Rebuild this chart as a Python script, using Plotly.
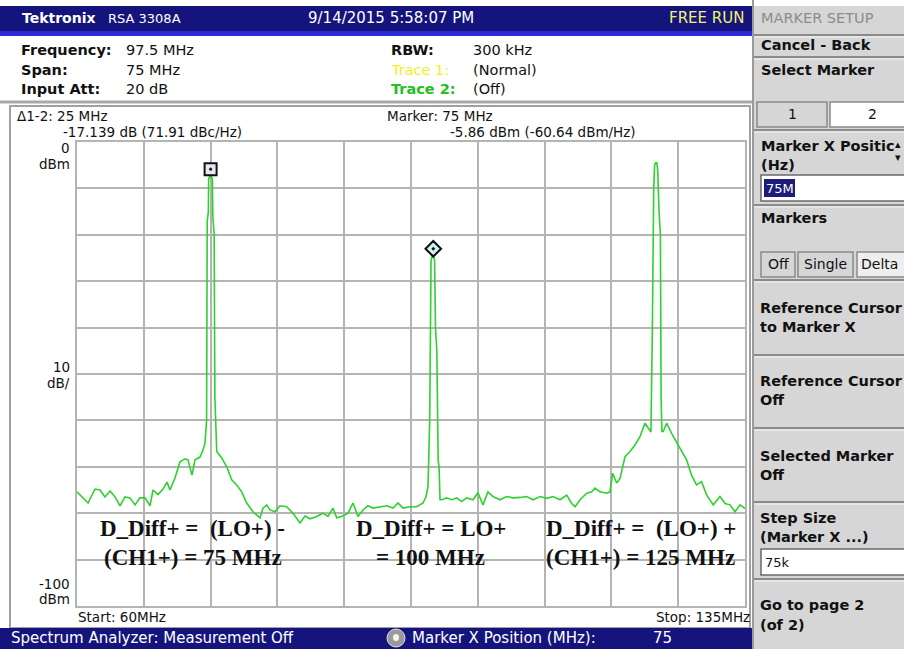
import plotly.graph_objects as go

# ---------------- data ----------------
freq_mhz = [
    60.00, 60.71, 61.24, 62.02, 62.58, 63.14, 63.71, 64.27, 64.83, 65.39,
    65.95, 66.51, 67.07, 67.64, 68.20, 68.53, 69.09, 69.66, 70.11, 70.44,
    71.00, 71.56, 72.13, 72.46, 72.91, 73.25, 73.81, 74.15, 74.37,
    74.55, 74.62, 74.75, 74.78, 74.88, 75.10, 75.20, 75.25, 75.40, 75.48, 75.69,
    76.25, 76.81, 77.37, 77.93, 78.49, 79.05, 79.76, 80.55, 80.88, 81.30,
    81.67, 82.23, 82.79, 83.54, 84.25, 85.04, 85.60, 86.16, 86.91, 87.62,
    88.18, 88.74, 89.16, 89.72, 90.43, 90.99, 91.55, 92.11, 92.67, 93.23,
    94.02, 94.77, 95.48, 96.04, 96.60, 97.39, 98.14, 98.85, 99.19, 99.41,
    99.60, 99.66, 99.75, 99.85, 100.05, 100.15, 100.25, 100.40, 100.55, 100.65,
    100.76, 100.95, 101.51, 102.07, 102.63, 103.19, 103.75, 104.46, 105.02, 105.58,
    106.14, 106.71, 107.49, 108.24, 108.95, 109.74, 110.49, 111.20, 111.99,
    112.74, 113.45, 114.23, 114.98, 115.54, 115.92, 116.48, 117.23, 117.79,
    118.16, 118.72, 119.47, 119.84, 120.14, 120.59, 120.97, 121.53, 122.09,
    122.65, 123.21, 123.77, 124.14, 124.44,
    124.60, 124.67, 124.75, 124.85, 124.95, 125.10, 125.20, 125.35, 125.50, 125.58,
    125.67, 125.82, 126.20, 126.76, 127.32, 127.88, 128.44, 129.00, 129.56, 130.12,
    130.70, 131.44, 132.19, 132.76, 133.32, 133.88, 134.44, 135.00,
]
level_dbm = [
    -75.4, -76.7, -77.8, -74.8, -75.0, -76.5, -75.2, -76.5, -78.4, -76.5,
    -76.7, -78.2, -76.7, -76.7, -78.4, -75.0, -76.0, -74.8, -73.3, -75.0,
    -72.4, -68.9, -68.3, -68.5, -71.8, -68.5, -67.9, -66.4, -64.9,
    -60.0, -17.0, -15.0, -8.0, -7.5, -7.5, -8.0, -16.0, -20.0, -55.0, -66.7,
    -68.1, -70.0, -72.8, -73.9, -75.4, -77.8, -79.7, -81.0, -78.9, -78.2,
    -79.3, -79.7, -78.4, -78.6, -80.0, -82.1, -80.6, -81.2, -80.7, -80.0,
    -80.7, -78.9, -81.0, -80.7, -80.0, -77.8, -80.7, -79.3, -78.4, -78.9,
    -78.6, -78.4, -78.9, -77.8, -78.9, -78.6, -78.6, -77.8, -76.4, -74.3,
    -60.0, -30.0, -25.5, -24.8, -24.8, -25.5, -40.0, -45.0, -68.5, -70.0,
    -77.1, -77.1, -76.7, -77.1, -76.7, -77.5, -76.7, -77.1, -75.6, -78.2,
    -75.4, -76.4, -77.1, -76.4, -76.7, -76.6, -76.4, -77.1, -76.4,
    -76.8, -76.4, -77.1, -76.1, -77.9, -78.6, -77.1, -75.7, -75.4,
    -74.6, -75.4, -75.7, -75.4, -71.4, -73.5, -72.5, -67.8, -66.7,
    -65.3, -63.5, -60.6, -61.7, -62.5,
    -40.0, -15.0, -10.0, -5.0, -4.5, -4.5, -6.0, -15.0, -20.0, -55.0,
    -62.4, -62.4, -60.6, -62.8, -64.6, -66.4, -68.5, -71.8, -73.9, -73.2,
    -76.1, -78.2, -76.4, -77.9, -78.2, -79.7, -78.2, -79.0,
]

marker_freq = [75.0, 100.0]
marker_level = [-5.86, -23.0]
marker_symbols = ["square-dot", "diamond-dot"]
marker_fills = ["#ece6f2", "#d4f2f2"]

eq_x = [73.0, 99.7, 123.3]
eq_line1 = ["D_Diff+ =\u00a0 (LO+) -", "D_Diff+ = LO+", "D_Diff+ =\u00a0 (LO+) +"]
eq_line2 = ["(CH1+) = 75 MHz", "= 100 MHz", "(CH1+) = 125 MHz"]

# ---------------- geometry helpers (page pixels -> paper) ----------------
W, H = 904, 649
L, R, T, B = 77, 745, 142, 606


def px(x):
    return (x - L) / (R - L)


def py(y):
    return (B - y) / (B - T)


NAVY = "#14147c"
PANEL = "#d6d6d6"
UI_FONT = "DejaVu Sans"

fig = go.Figure()

fig.add_trace(go.Scatter(
    x=freq_mhz, y=level_dbm, mode="lines",
    line=dict(color="#2ed12e", width=1.6),
    hoverinfo="skip", showlegend=False,
))
fig.add_trace(go.Scatter(
    x=marker_freq, y=marker_level, mode="markers",
    marker=dict(symbol=marker_symbols, size=12, color=marker_fills,
                line=dict(color="#111111", width=2)),
    hoverinfo="skip", showlegend=False,
))

shapes = []
ann = []


def rect(x0, y0, x1, y1, fill=None, line=None, lw=1, layer="above"):
    shapes.append(dict(type="rect", xref="paper", yref="paper",
                       x0=px(x0), x1=px(x1), y0=py(y1), y1=py(y0),
                       fillcolor=fill if fill else "rgba(0,0,0,0)",
                       line=dict(color=line if line else "rgba(0,0,0,0)", width=lw),
                       layer=layer))


def hline(x0, x1, y, color, lw=1):
    shapes.append(dict(type="line", xref="paper", yref="paper",
                       x0=px(x0), x1=px(x1), y0=py(y), y1=py(y),
                       line=dict(color=color, width=lw)))


def vline(x, y0, y1, color, lw=1):
    shapes.append(dict(type="line", xref="paper", yref="paper",
                       x0=px(x), x1=px(x), y0=py(y0), y1=py(y1),
                       line=dict(color=color, width=lw)))


def text(x, y, s, size=14, color="#111111", bold=False, anchor="left",
         family=UI_FONT, bg=None):
    a = dict(xref="paper", yref="paper", x=px(x), y=py(y), text=s,
             showarrow=False, xanchor=anchor, yanchor="middle",
             font=dict(family=family, size=size,
                       color=color, weight="bold" if bold else "normal"),
             borderpad=0)
    if bg:
        a["bgcolor"] = bg
    ann.append(a)


# ---- title bar ----
rect(0, 6, 752, 31, fill=NAVY)
rect(0, 31, 752, 36, fill="#2a2ad6")
text(21, 18, "Tektronix", size=14, color="white", bold=True)
text(107, 18, "RSA 3308A", size=13, color="white")
text(307, 18, "9/14/2015 5:58:07 PM", size=15, color="white")
text(745, 18, "FREE RUN", size=15, color="#f2f26a", anchor="right")

# ---- header info ----
text(20, 50, "Frequency:", size=14.5, bold=True)
text(125, 50, "97.5 MHz", size=14.5)
text(20, 70, "Span:", size=14.5, bold=True)
text(125, 70, "75 MHz", size=14.5)
text(20, 89, "Input Att:", size=14.5, bold=True)
text(125, 89, "20 dB", size=14.5)
text(390, 50, "RBW:", size=14.5, bold=True)
text(472, 50, "300 kHz", size=14.5)
text(390, 70, "Trace 1:", size=14.5, color="#f0f020")
text(472, 70, "(Normal)", size=14.5)
text(390, 89, "Trace 2:", size=14.5, color="#22c022", bold=True)
text(472, 89, "(Off)", size=14.5)
hline(0, 752, 102, "#a8a8a8", 3)

# ---- chart frame and readouts ----
rect(10, 106, 750, 628, line="#a0a0a0", lw=2)
text(16, 116, "\u03941-2: 25 MHz", size=13.5)
text(62, 132, "-17.139 dB (71.91 dBc/Hz)", size=13.5)
text(386, 116, "Marker: 75 MHz", size=13.5)
text(449, 132, "-5.86 dBm (-60.64 dBm/Hz)", size=13.5)
text(71, 148, "0", size=13.5, anchor="right")
text(71, 164, "dBm", size=13.5, anchor="right")
text(71, 367, "10", size=13.5, anchor="right")
text(71, 383, "dB/", size=13.5, anchor="right")
text(71, 584, "-100", size=13.5, anchor="right")
text(71, 599, "dBm", size=13.5, anchor="right")
text(77, 617, "Start: 60MHz", size=13.5)
text(751, 617, "Stop: 135MHz", size=13.5, anchor="right")

# ---- equations inside the plot (data-anchored x) ----
for fx, l1, l2 in zip(eq_x, eq_line1, eq_line2):
    ann.append(dict(x=fx, y=-83.3, xref="x", yref="y", text=l1, showarrow=False,
                    xanchor="center", yanchor="middle",
                    font=dict(family="Liberation Serif", size=23, color="#111111",
                              weight="bold")))
    ann.append(dict(x=fx, y=-89.6, xref="x", yref="y", text=l2, showarrow=False,
                    xanchor="center", yanchor="middle",
                    font=dict(family="Liberation Serif", size=23, color="#111111",
                              weight="bold")))

# ---- status bar ----
rect(0, 628, 752, 649, fill=NAVY)
text(10, 638, "Spectrum Analyzer: Measurement Off", size=15, color="white")
shapes.append(dict(type="circle", xref="paper", yref="paper",
                   x0=px(387), x1=px(405), y0=py(647), y1=py(629),
                   fillcolor="#9a9a9a", line=dict(color="#e0e0e0", width=1)))
shapes.append(dict(type="circle", xref="paper", yref="paper",
                   x0=px(393), x1=px(399), y0=py(641), y1=py(634),
                   fillcolor="#f4f4f4", line=dict(color="#f4f4f4", width=0)))
text(411, 638, "Marker X Position (MHz):", size=15, color="white")
text(652, 638, "75", size=15, color="white")

# ---- right panel ----
rect(752, 0, 904, 649, fill=PANEL)
rect(752, 0, 904, 6, fill="white")
text(760, 18, "MARKER SETUP", size=14.5, color="#8c8c8c")
for yy in [35, 57, 130, 205, 280, 355, 428, 502, 579]:
    hline(752, 904, yy, "#8a8a8a", 2)
    hline(752, 904, yy + 2, "#f4f4f4", 1)
vline(753, 0, 649, "#9a9a9a", 2)
text(760, 45, "Cancel - Back", size=14.5, bold=True)
text(760, 70, "Select Marker", size=14.5, bold=True)
# tabs
rect(757, 102, 827, 127, fill=PANEL, line="#8a8a8a", lw=1.5)
rect(830, 102, 906, 127, fill="white", line="#8a8a8a", lw=1.5)
text(792, 114, "1", size=14, anchor="center")
text(872, 114, "2", size=14, anchor="center")
text(760, 146, "Marker X Positic", size=14.5, bold=True)
text(760, 165, "(Hz)", size=14.5, bold=True)
text(902, 144, "\u25b4", size=11, anchor="right")
text(902, 158, "\u25be", size=11, anchor="right")
rect(761, 175, 906, 201, fill="white", line="#6a6a6a", lw=1.5)
rect(764, 179, 795, 197, fill="#1c1c7a")
text(765, 188, "75M", size=13, color="white")
text(760, 218, "Markers", size=14.5, bold=True)
rect(761, 252, 795, 277, fill=PANEL, line="#8a8a8a", lw=1.5)
rect(798, 252, 853, 277, fill=PANEL, line="#8a8a8a", lw=1.5)
rect(857, 252, 906, 277, fill="#eeeeee", line="#8a8a8a", lw=1.5)
text(778, 264, "Off", size=14, anchor="center")
text(825, 264, "Single", size=14, anchor="center")
text(860, 264, "Delta", size=14)
text(759, 308, "Reference Cursor", size=14.5, bold=True)
text(759, 327, "to Marker X", size=14.5, bold=True)
text(759, 381, "Reference Cursor", size=14.5, bold=True)
text(759, 400, "Off", size=14.5, bold=True)
text(759, 456, "Selected Marker", size=14.5, bold=True)
text(759, 475, "Off", size=14.5, bold=True)
text(759, 518, "Step Size", size=14.5, bold=True)
text(759, 537, "(Marker X ...)", size=14.5, bold=True)
rect(761, 549, 906, 575, fill="white", line="#6a6a6a", lw=1.5)
text(764, 562, "75k", size=13)
text(759, 605, "Go to page 2", size=14.5, bold=True)
text(759, 625, "(of 2)", size=14.5, bold=True)

fig.update_layout(
    width=W, height=H, autosize=False,
    margin=dict(l=L, r=W - R, t=T, b=H - B, pad=0),
    paper_bgcolor="white", plot_bgcolor="white",
    showlegend=False,
    shapes=shapes, annotations=ann,
    xaxis=dict(range=[60, 135], dtick=7.5, tick0=60, showgrid=True,
               gridcolor="#b4b4b4", gridwidth=1.5, zeroline=False,
               showticklabels=False, ticks="", showline=True,
               linecolor="#b4b4b4", linewidth=1.5, mirror=True, fixedrange=True),
    yaxis=dict(range=[-100, 0], dtick=10, tick0=0, showgrid=True,
               gridcolor="#b4b4b4", gridwidth=1.5, zeroline=False,
               showticklabels=False, ticks="", showline=True,
               linecolor="#b4b4b4", linewidth=1.5, mirror=True, fixedrange=True),
)

fig.write_html("out.html", config={"displayModeBar": False},
               post_script="document.body.style.margin='0';document.body.style.overflow='hidden';")
